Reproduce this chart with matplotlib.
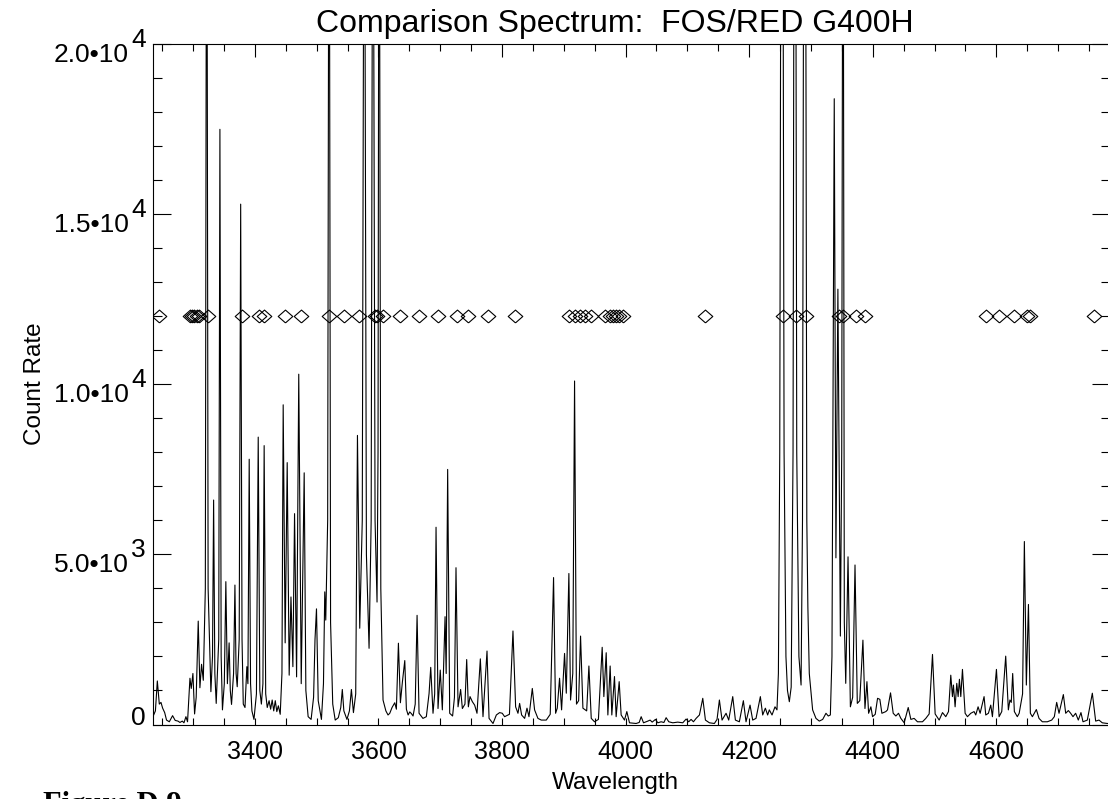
import matplotlib
matplotlib.use("Agg")
import matplotlib.pyplot as plt
from matplotlib.ticker import MultipleLocator
from matplotlib.transforms import offset_copy

plt.rcParams['font.family'] = ['Liberation Sans', 'DejaVu Sans']

# ---------------- data ----------------
title_text = "Comparison Spectrum:  FOS/RED G400H"
x_label = "Wavelength"
y_label = "Count Rate"
figure_caption = "Figure D.9"

# spectrum vertices (wavelength [A], count rate)
wavelength = [
    3235.0, 3239.0, 3242.1, 3245.3, 3248.0, 3250.7, 3254.0, 3257.0, 3261.5, 3266.8,
    3271.0, 3275.5, 3278.7, 3282.5, 3285.2, 3288.4, 3291.0, 3294.9, 3297.0, 3299.7,
    3302.4, 3305.0, 3308.3, 3311.0, 3313.7, 3316.5, 3319.8, 3322.0, 3324.3, 3328.8,
    3331.4, 3333.2, 3335.2, 3337.4, 3341.5, 3343.4, 3345.4, 3347.5, 3350.5, 3353.0,
    3355.5, 3358.3, 3360.2, 3362.2, 3365.5, 3367.7, 3369.6, 3371.4, 3374.6, 3377.0,
    3379.2, 3381.2, 3384.0, 3387.0, 3388.7, 3390.8, 3393.0, 3395.2, 3398.5, 3402.5,
    3405.4, 3408.0, 3410.5, 3413.0, 3415.0, 3417.5, 3420.0, 3423.0, 3425.5, 3428.0,
    3430.5, 3433.0, 3435.5, 3438.0, 3441.0, 3443.8, 3445.8, 3449.0, 3452.3, 3455.5,
    3458.4, 3461.5, 3464.2, 3467.5, 3471.0, 3475.0, 3479.8, 3482.5, 3486.2, 3491.0,
    3495.0, 3497.3, 3499.7, 3502.5, 3507.7, 3511.0, 3513.1, 3514.7, 3517.8, 3520.1,
    3522.5, 3526.0, 3530.0, 3535.0, 3539.0, 3541.5, 3544.0, 3549.0, 3553.0, 3556.2,
    3559.5, 3563.2, 3566.0, 3569.7, 3573.8, 3577.0, 3580.5, 3584.8, 3588.2, 3591.0,
    3594.5, 3597.7, 3599.3, 3601.0, 3603.8, 3607.4, 3612.0, 3615.5,
    3618.3, 3622.0, 3626.4, 3629.0, 3632.3, 3635.5, 3638.8, 3642.6, 3645.2, 3648.0,
    3650.6, 3653.3, 3656.0, 3659.5, 3662.5, 3665.7, 3672.0, 3677.5, 3681.9, 3684.6,
    3688.3, 3691.0, 3693.2, 3696.4, 3700.0, 3703.4, 3707.8, 3709.6, 3712.0, 3715.3,
    3720.0, 3723.0, 3725.5, 3728.8, 3733.0, 3735.8, 3740.0, 3742.8, 3745.5, 3748.2,
    3752.0, 3755.7, 3759.5, 3764.9, 3769.2, 3775.7, 3779.0, 3785.4, 3790.8, 3796.1,
    3800.4, 3804.2, 3812.0, 3817.7, 3822.0, 3825.8, 3828.5, 3831.7, 3836.6, 3840.4,
    3843.6, 3849.0, 3852.7, 3858.1, 3863.5, 3871.6, 3878.0, 3883.4, 3886.7, 3889.4,
    3893.1, 3896.4, 3901.2, 3904.0, 3908.2, 3910.9, 3914.5, 3917.4, 3920.5, 3924.0,
    3927.1, 3930.9, 3937.0, 3940.6, 3944.4, 3949.7, 3956.0, 3962.1, 3964.8, 3968.6,
    3971.3, 3975.0, 3977.7, 3982.0, 3984.7, 3989.6, 3992.8, 3998.2, 4002.0,
    4006.3, 4012.0, 4017.0, 4022.0, 4025.2, 4029.0, 4036.0, 4039.7, 4043.0, 4048.3,
    4052.1, 4057.5, 4062.0, 4065.6, 4069.9, 4076.4, 4084.4, 4092.5, 4097.9, 4102.2,
    4106.0, 4109.8, 4114.1, 4119.5, 4124.9, 4129.2, 4135.6, 4143.7, 4148.0, 4151.8,
    4156.1, 4162.6, 4166.9, 4173.4, 4177.7, 4184.1, 4190.6, 4194.9, 4201.4, 4205.7,
    4211.1, 4218.1, 4221.9, 4226.2, 4229.9, 4232.6, 4237.0, 4241.8, 4245.0, 4247.3,
    4249.5, 4253.0, 4256.5, 4259.5, 4262.0, 4265.0, 4268.0, 4271.0, 4274.0, 4277.0,
    4280.5, 4284.0, 4286.3, 4289.8, 4293.3, 4295.0, 4297.3, 4302.7, 4308.1, 4313.5,
    4319.0, 4324.3, 4328.0, 4331.4, 4334.0, 4337.7, 4340.4, 4343.6, 4347.6, 4349.8,
    4351.9, 4354.0, 4356.3, 4360.0, 4363.8, 4367.5, 4371.3, 4375.0, 4379.0, 4384.1,
    4387.4, 4390.6, 4393.3,
    4397.0, 4399.7, 4404.0, 4407.8, 4411.5, 4414.8, 4421.2, 4423.9, 4428.8, 4433.1,
    4437.4, 4441.7, 4445.5, 4450.9, 4457.4, 4461.7, 4467.0, 4472.4, 4480.5, 4485.9,
    4491.3, 4496.7, 4501.0, 4507.5, 4512.9, 4518.2, 4522.6, 4526.3, 4529.0, 4530.6,
    4533.3, 4536.0, 4538.2, 4540.3, 4542.5, 4545.2, 4549.5, 4553.3, 4558.7, 4564.0,
    4566.7, 4570.5, 4573.8, 4580.2, 4582.9, 4587.2, 4591.0, 4593.7, 4600.2, 4604.5,
    4608.8, 4615.2, 4619.5, 4622.0, 4624.2, 4626.5, 4629.2, 4634.0, 4637.0, 4642.5,
    4645.4, 4648.6, 4652.0, 4655.1, 4658.4, 4664.8, 4669.1, 4674.5, 4682.6, 4689.6,
    4693.9, 4697.7, 4701.5, 4708.5, 4712.3, 4716.6, 4720.3, 4724.1, 4728.4, 4732.7,
    4737.0, 4740.3, 4747.3, 4755.4, 4760.8, 4766.2, 4771.5, 4779.6, 4790.0,
]
count_rate = [
    230, 400, 1280, 600, 650, 480, 350, 130, 80, 260,
    120, 100, 60, 100, 50, 230, 80, 1360, 1060, 1500,
    310, 800, 3040, 1080, 1770, 1300, 4000, 30000, 4000, 965,
    2000, 6600, 1500, 620, 2500, 17500, 2000, 430, 1200, 4200,
    1200, 2400, 1000, 590, 1500, 4100, 1500, 1110, 2500, 15300,
    2500, 600, 500, 1700, 1200, 7800, 1200, 400, 150, 900,
    8450, 1000, 600, 1200, 8200, 900, 500, 700, 450, 720,
    400, 700, 380, 550, 300, 1500, 9400, 2400, 7700, 1450,
    3750, 1700, 6200, 1400, 10300, 1200, 7400, 1000, 230, 150,
    800, 2500, 3400, 700, 150, 1200, 3900, 3070, 6000, 30000,
    3000, 600, 130, 200, 500, 1030, 400, 150, 400, 1030,
    350, 900, 8500, 2830, 6000, 30000, 5000, 2240, 6000, 30000,
    6000, 3600, 8000, 30000, 4000, 720, 400, 280,
    330, 500, 640, 450, 2390, 640, 1260, 1880, 450, 280,
    370, 320, 250, 600, 3210, 330, 180, 230, 910, 1680,
    330, 900, 5800, 470, 1600, 430, 3170, 1500, 7500, 330,
    250, 800, 4610, 520, 1030, 470, 600, 1910, 520, 820,
    670, 570, 330, 1930, 230, 2160, 180, 30, 280, 350,
    330, 230, 300, 2750, 520, 330, 620, 280, 180, 480,
    230, 1060, 430, 180, 130, 130, 300, 4320, 330, 480,
    1360, 430, 2090, 920, 4440, 720, 1500, 10100, 600, 700,
    2600, 480, 400, 1720, 180, 80, 150, 2270, 820, 2110,
    280, 1720, 280, 1410, 230, 1260, 280, 130, 380,
    50, 40, 30, 60, 230, 50, 100, 130, 70, 150,
    50, 80, 60, 200, 80, 50, 70, 50, 160, 80,
    150, 80, 180, 280, 770, 130, 50, 30, 150, 720,
    130, 330, 130, 820, 130, 80, 700, 80, 570, 130,
    180, 820, 280, 480, 280, 430, 280, 520, 430, 1500,
    8000, 40000, 8000, 2000, 1000, 670, 1100, 8000, 40000, 8000,
    2000, 1160, 6000, 40000, 6000, 3460, 1500, 430, 180, 100,
    150, 330, 250, 280, 2000, 18400, 4900, 12800, 2600, 8000,
    30000, 3000, 1210, 4930, 520, 800, 4690, 620, 700, 2480,
    470, 1260, 330,
    520, 230, 300, 770, 740, 330, 380, 430, 930, 330,
    250, 330, 180, 50, 500, 150, 180, 80, 80, 180,
    310, 2060, 310, 130, 350, 230, 380, 1450, 820, 1160,
    520, 1210, 820, 1330, 820, 1620, 330, 230, 330, 380,
    280, 520, 330, 820, 280, 330, 570, 230, 1620, 230,
    380, 2010, 430, 720, 650, 1500, 380, 230, 330, 900,
    5380, 1160, 3530, 330, 230, 440, 180, 80, 80, 130,
    230, 650, 330, 880, 330, 410, 330, 230, 330, 130,
    350, 80, 130, 920, 100, 130, 50, 30, 30,
]

# identified comparison lines (diamond markers)
line_wavelengths = [
    3245.3, 3294.9, 3297.7, 3301.4, 3306.7, 3309.9, 3324.5, 3378.5, 3407.0, 3415.5,
    3448.0, 3474.4, 3520.1, 3544.4, 3568.6, 3594.0, 3597.3, 3607.4, 3635.3, 3665.5,
    3696.4, 3727.4, 3744.9, 3778.0, 3820.4, 3908.2, 3917.4, 3925.5, 3933.5, 3944.4,
    3965.9, 3974.0, 3979.3, 3984.8, 3990.1, 3995.5, 4128.4, 4255.3, 4275.8, 4291.4,
    4345.9, 4351.2, 4372.9, 4387.6, 4583.0, 4604.5, 4628.3, 4650.3, 4653.8, 4758.1,
]
marker_level = 12000

x_range = (3235.1, 4784.0)
y_range = (0, 20000)
xtick_values = [3400, 3600, 3800, 4000, 4200, 4400, 4600]
xtick_labels = ["3400", "3600", "3800", "4000", "4200", "4400", "4600"]
ytick_values = [0, 5000, 10000, 15000, 20000]
ytick_main = ["0", "5.0\u202210", "1.0\u202210", "1.5\u202210", "2.0\u202210"]
ytick_sup = ["", "3", "4", "4", "4"]

# ---------------- figure ----------------
W, H = 1108, 799
fig = plt.figure(figsize=(W / 100, H / 100), dpi=100)


def fx(px):
    return px / W


def fy(py):
    return 1 - py / H


left_px, right_px, top_px, bottom_px = 153, 1110, 44.3, 724.5
ax = fig.add_axes([fx(left_px), fy(bottom_px), (right_px - left_px) / W,
                   (bottom_px - top_px) / H])

ax.plot(line_wavelengths, [marker_level] * len(line_wavelengths), linestyle='none',
        marker=[(0, -0.88), (1, 0), (0, 0.88), (-1, 0), (0, -0.88)],
        markersize=10.5, markerfacecolor='none', markeredgecolor='black',
        markeredgewidth=0.8, zorder=2)
ax.plot(wavelength, count_rate, color='black', linewidth=0.8, zorder=3)

ax.set_xlim(*x_range)
ax.set_ylim(*y_range)

for sp in ax.spines.values():
    sp.set_linewidth(0.8)

ax.set_xticks(xtick_values, labels=xtick_labels)
ax.xaxis.set_minor_locator(MultipleLocator(50))
ax.set_yticks(ytick_values, labels=[""] * len(ytick_values))
ax.yaxis.set_minor_locator(MultipleLocator(1000))

ax.tick_params(which='both', direction='in', top=True, right=True, width=0.8,
               color='black')
ax.tick_params(axis='x', which='both', length=4.7, labelsize=18, pad=11.0)
ax.tick_params(axis='y', which='major', length=13.2)
ax.tick_params(axis='y', which='minor', length=6.7)

# y tick labels with full-size superscript exponent
ytrans = ax.get_yaxis_transform()
for val, main, sup in zip(ytick_values, ytick_main, ytick_sup):
    if sup:
        t_main = offset_copy(ytrans, fig=fig, x=-17.6, y=-12.7, units='points')
        ax.text(0, val, main, transform=t_main, ha='right', va='baseline',
                fontsize=19, clip_on=False)
        t_sup = offset_copy(ytrans, fig=fig, x=-5.4, y=-1.9, units='points')
        ax.text(0, val, sup, transform=t_sup, ha='right', va='baseline',
                fontsize=19, clip_on=False)
    else:
        t_main = offset_copy(ytrans, fig=fig, x=-5.4, y=-0.4, units='points')
        ax.text(0, val, main, transform=t_main, ha='right', va='baseline',
                fontsize=19, clip_on=False)

fig.text(fx(615), fy(31.7), title_text, ha='center', va='baseline', fontsize=23)
fig.text(fx(615), fy(789), x_label, ha='center', va='baseline', fontsize=17.5)
fig.text(fx(35), fy(384), y_label, rotation=90, ha='center', va='center',
         fontsize=17.5)
fig.text(fx(43), fy(813), figure_caption, ha='left', va='baseline', fontsize=22,
         family='Liberation Serif', weight='bold')

# top ticks are longer than the bottom ones in the reference
fig.canvas.draw()
for t in ax.xaxis.get_major_ticks():
    t.tick2line.set_markersize(9.6)
for t in ax.xaxis.get_minor_ticks():
    t.tick2line.set_markersize(5.3)

fig.savefig("out.png", dpi=100)
